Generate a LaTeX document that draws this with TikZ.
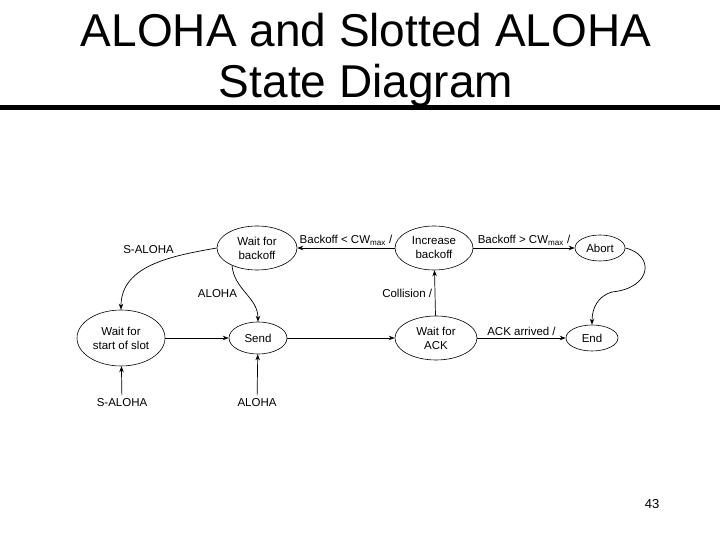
\documentclass[tikz,border=0pt]{standalone}
\usepackage{fontspec}
\setmainfont{Liberation Sans}
\usetikzlibrary{positioning,arrows.meta,shapes.geometric}

\begin{document}
\begin{tikzpicture}[
  x=1pt, y=1pt,
  font=\fontsize{11.5}{14}\selectfont,
  state/.style={draw, ellipse, inner sep=0pt, align=center, line width=0.6pt},
  lbl/.style={inner sep=2.5pt},
  conn/.style={->, line width=0.7pt},
  >={Stealth[length=6pt,width=4.5pt]},
]
  \useasboundingbox (0,0) rectangle (720,540);

  \node[font=\fontsize{46}{50}\selectfont, anchor=base] (title) at (366,493) {ALOHA and Slotted ALOHA};
  \node[font=\fontsize{46}{50}\selectfont, anchor=base] (subtitle) at (366,442) {State Diagram};
  \draw[line width=5pt] (0,432) -- (720,432);

  \node[state, minimum width=80pt, minimum height=44pt] (backoff) at (257,292) {Wait for\\backoff};
  \node[state, minimum width=78pt, minimum height=44pt] (incr) at (434,292) {Increase\\backoff};
  \node[state, minimum width=50pt, minimum height=26pt] (abort) at (600,292) {Abort};
  \node[state, minimum width=88pt, minimum height=56pt] (slot) at (121,202) {Wait for\\start of slot};
  \node[state, minimum width=58pt, minimum height=32pt] (send) at (258,202) {Send};
  \node[state, minimum width=82pt, minimum height=44pt] (ack) at (436,202) {Wait for\\ACK};
  \node[state, minimum width=52pt, minimum height=26pt] (done) at (592,202) {End};

  \node (slotin) at (122,137) {S-ALOHA};
  \node (sendin) at (257,137) {ALOHA};
  \coordinate (turn) at (612,248);

  \draw[conn] (incr) -- node[lbl, above] (lbllt) {Backoff < CW\textsubscript{max} /} (backoff);
  \draw[conn] (incr) -- node[lbl, above] (lblgt) {Backoff > CW\textsubscript{max} /} (abort);
  \draw[conn] (ack) -- node[lbl, left] (lblcol) {Collision /} (incr);
  \draw[conn] (ack) -- node[lbl, above] (lblack) {ACK arrived /} (done);
  \draw[conn] (slot) -- (send);
  \draw[conn] (send) -- (ack);
  \draw[conn] (slotin) -- (slot);
  \draw[conn] (sendin) -- (send);
  \draw[conn] (backoff.west) to[out=190, in=90] node[lbl, pos=0.3, above left] (lblsa) {S-ALOHA} (slot.north);
  \draw[conn] (backoff.215) to[out=-85, in=90] node[lbl, pos=0.5, left=6pt] (lblal) {ALOHA} (send.north);
  \draw[conn] (abort.east) .. controls (655,285) and (652,252) .. (turn)
    .. controls (598,244) and (592,232) .. (done.north);

  \node[font=\fontsize{13}{15}\selectfont] (page) at (652,36) {43};
\end{tikzpicture}
\end{document}
